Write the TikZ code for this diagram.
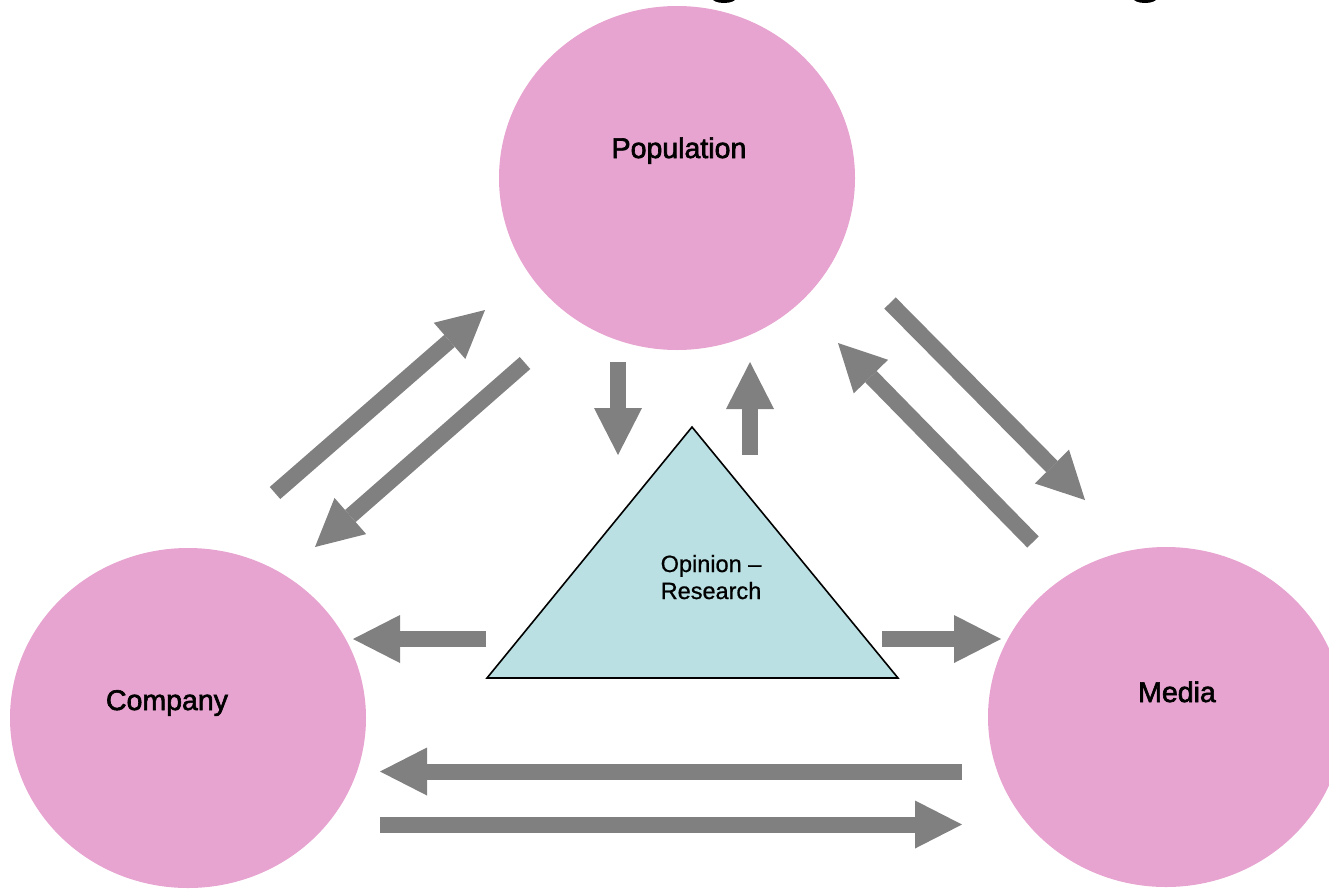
\documentclass[tikz,border=0pt]{standalone}
\usepackage{fontspec}
\setmainfont{Liberation Sans}
\newfontfamily\lblfont[FakeBold=2.2]{Liberation Sans}
\newfontfamily\smallfont[FakeBold=0.8]{Liberation Sans}
\usetikzlibrary{shapes.geometric,arrows.meta}
\definecolor{pinkfill}{HTML}{E7A4D0}
\definecolor{tealfill}{HTML}{BAE0E3}
\definecolor{arrowgray}{HTML}{808080}
\tikzset{
  blob/.style={ellipse, fill=pinkfill, draw=none, inner sep=0pt, minimum width=356pt},
  biglabel/.style={anchor=base, inner sep=0pt, font=\lblfont\fontsize{28.5}{34}\selectfont},
  blockarrow/.style={draw=arrowgray, line width=16pt,
    -{Triangle[width=48pt 0, length=47pt 0, line width=0pt, fill=arrowgray]}},
}
\begin{document}
\begin{tikzpicture}[x=1pt,y=-1pt]
\useasboundingbox (0,0) rectangle (1329,889);
\clip (0,0) rectangle (1329,889);
% cut-off title fragments at the very top
\fill[black] (724,-2) ellipse [x radius=12, y radius=5];
\fill[black] (1145,-2) ellipse [x radius=12, y radius=5];
% ellipses
\node[blob, minimum height=344pt] (pop) at (677,178) {};
\node[blob, minimum height=340pt] (comp) at (188,718) {};
\node[blob, minimum height=340pt] (media) at (1166,717) {};
\node[biglabel] (popl) at (679,158) {Population};
\node[biglabel] (compl) at (167,710) {Company};
\node[biglabel] (medial) at (1177,702) {Media};
% triangle
\coordinate (tA) at (692,427);
\coordinate (tB) at (487,678);
\coordinate (tC) at (898,678);
\filldraw[fill=tealfill, draw=black, line width=1.6pt, line join=miter] (tA) -- (tB) -- (tC) -- cycle;
\node[align=center, inner sep=0pt, anchor=base, font=\smallfont\fontsize{23.5}{27}\selectfont] (op) at (711,599) {Opinion –\\Research};
% arrow endpoints
\coordinate (a1s) at (618,362);  \coordinate (a1e) at (618,455);
\coordinate (a2s) at (750,455);  \coordinate (a2e) at (750,362);
\coordinate (a3s) at (486,639);  \coordinate (a3e) at (353,639);
\coordinate (a4s) at (882,639);  \coordinate (a4e) at (1001,639);
\coordinate (a5s) at (962,771.5); \coordinate (a5e) at (380,771.5);
\coordinate (a6s) at (380,824.5); \coordinate (a6e) at (962,824.5);
\coordinate (a7s) at (275,493);  \coordinate (a7e) at (485,310);
\coordinate (a8s) at (525,363);  \coordinate (a8e) at (315,547);
\coordinate (a9s) at (890,303);  \coordinate (a9e) at (1085,500);
\coordinate (a10s) at (1033,542); \coordinate (a10e) at (838,343);
\foreach \i in {1,...,10} {\draw[blockarrow] (a\i s) -- (a\i e);}
\end{tikzpicture}
\end{document}
